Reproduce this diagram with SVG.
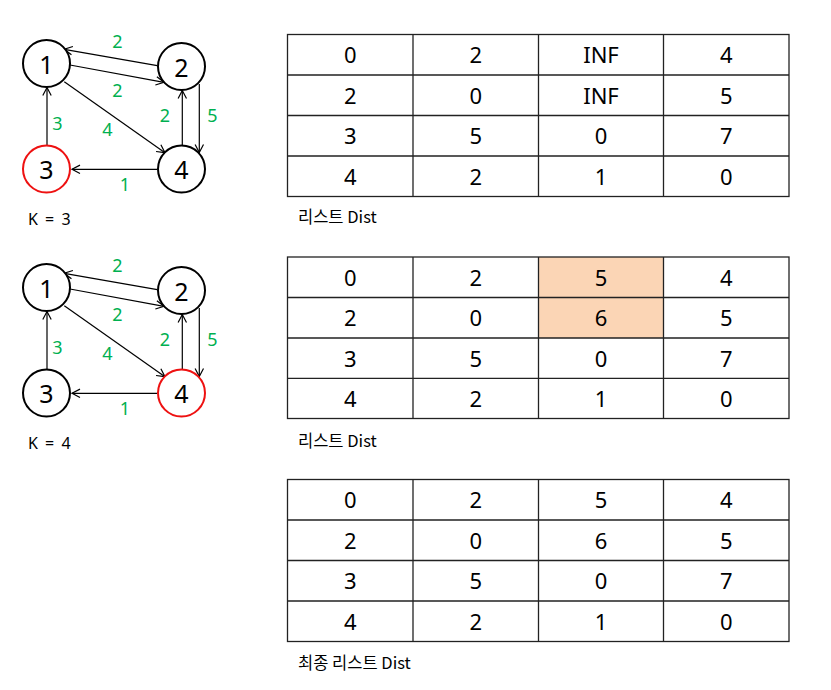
<svg xmlns="http://www.w3.org/2000/svg" width="831" height="690" viewBox="0 0 831 690">
<style>
.bg{fill:#fff}
.node{fill:#fff;stroke:#000;stroke-width:2}
.node.k{stroke:#ee1111}
.nt{font-family:"Noto Sans","Noto Sans CJK KR",sans-serif;font-size:25px;fill:#000;text-anchor:middle}
.el{font-family:"Noto Sans","Noto Sans CJK KR",sans-serif;font-size:18px;fill:#00b050;text-anchor:middle}
.edge{stroke:#000;stroke-width:1.2;fill:none;marker-end:url(#arr)}
.cap{font-family:"Noto Sans CJK KR","Noto Sans",sans-serif;font-size:16.5px;fill:#000}
.kl{font-family:"Noto Sans","Noto Sans CJK KR",sans-serif;font-size:16px;fill:#000;word-spacing:3px}
.grid{stroke:#222;stroke-width:1.3;fill:none}
.cell{font-family:"Noto Sans","Noto Sans CJK KR",sans-serif;font-size:22px;fill:#000;text-anchor:middle}
.hl{fill:#fbd5b5}
</style>
<defs>
<marker id="arr" markerUnits="userSpaceOnUse" markerWidth="12" markerHeight="12" viewBox="-10 -6 12 12" refX="0" refY="0" orient="auto">
<path d="M-8,-4.2 L0,0 L-8,4.2" fill="none" stroke="#000" stroke-width="1.2"/>
</marker>
</defs>
<rect class="bg" x="0" y="0" width="831" height="690"/>

<!-- Graph 1 (K = 3) -->
<g id="graph1-edges">
<line class="edge" x1="157.3" y1="65.7" x2="64.3" y2="49.3"/>
<line class="edge" x1="70" y1="65" x2="164" y2="82.3"/>
<line class="edge" x1="64.3" y1="81.7" x2="165" y2="152.7"/>
<line class="edge" x1="47" y1="145" x2="47" y2="87.5"/>
<line class="edge" x1="182.3" y1="145.5" x2="182.3" y2="90.5"/>
<line class="edge" x1="199.3" y1="84" x2="199.3" y2="152.5"/>
<line class="edge" x1="157.3" y1="169.3" x2="72" y2="169.3"/>
<text class="el" x="117.5" y="48.3">2</text>
<text class="el" x="117.5" y="96.7">2</text>
<text class="el" x="57.5" y="130">3</text>
<text class="el" x="107.5" y="136">4</text>
<text class="el" x="165" y="121.7">2</text>
<text class="el" x="212.5" y="121.7">5</text>
<text class="el" x="125" y="190.7">1</text>
</g>
<g id="g1-n1"><circle class="node" cx="46.5" cy="63.5" r="23.5"/><text class="nt" x="46.5" y="73.5">1</text></g>
<g id="g1-n2"><circle class="node" cx="181.5" cy="66.5" r="23.5"/><text class="nt" x="181.5" y="76.5">2</text></g>
<g id="g1-n3"><circle class="node k" cx="46.5" cy="169" r="23.5"/><text class="nt" x="46.5" y="179">3</text></g>
<g id="g1-n4"><circle class="node" cx="181.5" cy="169" r="23.5"/><text class="nt" x="181.5" y="179">4</text></g>
<text class="kl" x="28" y="224.5">K = 3</text>

<!-- Graph 2 (K = 4) -->
<g id="graph2-edges" transform="translate(0,224)">
<line class="edge" x1="157.3" y1="65.7" x2="64.3" y2="49.3"/>
<line class="edge" x1="70" y1="65" x2="164" y2="82.3"/>
<line class="edge" x1="64.3" y1="81.7" x2="165" y2="152.7"/>
<line class="edge" x1="47" y1="145" x2="47" y2="87.5"/>
<line class="edge" x1="182.3" y1="145.5" x2="182.3" y2="90.5"/>
<line class="edge" x1="199.3" y1="84" x2="199.3" y2="152.5"/>
<line class="edge" x1="157.3" y1="169.3" x2="72" y2="169.3"/>
<text class="el" x="117.5" y="48.3">2</text>
<text class="el" x="117.5" y="96.7">2</text>
<text class="el" x="57.5" y="130">3</text>
<text class="el" x="107.5" y="136">4</text>
<text class="el" x="165" y="121.7">2</text>
<text class="el" x="212.5" y="121.7">5</text>
<text class="el" x="125" y="190.7">1</text>
</g>
<g id="g2-n1"><circle class="node" cx="46.5" cy="287.5" r="23.5"/><text class="nt" x="46.5" y="297.5">1</text></g>
<g id="g2-n2"><circle class="node" cx="181.5" cy="290.5" r="23.5"/><text class="nt" x="181.5" y="300.5">2</text></g>
<g id="g2-n3"><circle class="node" cx="46.5" cy="393" r="23.5"/><text class="nt" x="46.5" y="403">3</text></g>
<g id="g2-n4"><circle class="node k" cx="181.5" cy="393" r="23.5"/><text class="nt" x="181.5" y="403">4</text></g>
<text class="kl" x="28" y="448.5">K = 4</text>

<!-- Table 1 -->
<g id="table1">
<rect class="grid" x="287.5" y="34.5" width="501.5" height="162"/>
<path class="grid" d="M287.5,75 H789 M287.5,115.5 H789 M287.5,156 H789 M413,34.5 V196.5 M538.5,34.5 V196.5 M663.5,34.5 V196.5"/>
<text class="cell" x="350.2" y="63.2">0</text><text class="cell" x="475.7" y="63.2">2</text><text class="cell" x="601" y="63.2">INF</text><text class="cell" x="726.2" y="63.2">4</text>
<text class="cell" x="350.2" y="103.7">2</text><text class="cell" x="475.7" y="103.7">0</text><text class="cell" x="601" y="103.7">INF</text><text class="cell" x="726.2" y="103.7">5</text>
<text class="cell" x="350.2" y="144.2">3</text><text class="cell" x="475.7" y="144.2">5</text><text class="cell" x="601" y="144.2">0</text><text class="cell" x="726.2" y="144.2">7</text>
<text class="cell" x="350.2" y="184.7">4</text><text class="cell" x="475.7" y="184.7">2</text><text class="cell" x="601" y="184.7">1</text><text class="cell" x="726.2" y="184.7">0</text>
</g>
<text class="cap" x="298" y="223">리스트 Dist</text>

<!-- Table 2 -->
<g id="table2">
<rect class="hl" x="538.5" y="257" width="125" height="81"/>
<rect class="grid" x="287.5" y="257" width="501.5" height="161.5"/>
<path class="grid" d="M287.5,297.5 H789 M287.5,338 H789 M287.5,378.3 H789 M413,257 V418.5 M538.5,257 V418.5 M663.5,257 V418.5"/>
<text class="cell" x="350.2" y="285.7">0</text><text class="cell" x="475.7" y="285.7">2</text><text class="cell" x="601" y="285.7">5</text><text class="cell" x="726.2" y="285.7">4</text>
<text class="cell" x="350.2" y="326.2">2</text><text class="cell" x="475.7" y="326.2">0</text><text class="cell" x="601" y="326.2">6</text><text class="cell" x="726.2" y="326.2">5</text>
<text class="cell" x="350.2" y="366.6">3</text><text class="cell" x="475.7" y="366.6">5</text><text class="cell" x="601" y="366.6">0</text><text class="cell" x="726.2" y="366.6">7</text>
<text class="cell" x="350.2" y="406.9">4</text><text class="cell" x="475.7" y="406.9">2</text><text class="cell" x="601" y="406.9">1</text><text class="cell" x="726.2" y="406.9">0</text>
</g>
<text class="cap" x="298" y="446.5">리스트 Dist</text>

<!-- Table 3 -->
<g id="table3">
<rect class="grid" x="287.5" y="479.5" width="501.5" height="162"/>
<path class="grid" d="M287.5,520 H789 M287.5,560.5 H789 M287.5,601 H789 M413,479.5 V641.5 M538.5,479.5 V641.5 M663.5,479.5 V641.5"/>
<text class="cell" x="350.2" y="508.2">0</text><text class="cell" x="475.7" y="508.2">2</text><text class="cell" x="601" y="508.2">5</text><text class="cell" x="726.2" y="508.2">4</text>
<text class="cell" x="350.2" y="548.7">2</text><text class="cell" x="475.7" y="548.7">0</text><text class="cell" x="601" y="548.7">6</text><text class="cell" x="726.2" y="548.7">5</text>
<text class="cell" x="350.2" y="589.2">3</text><text class="cell" x="475.7" y="589.2">5</text><text class="cell" x="601" y="589.2">0</text><text class="cell" x="726.2" y="589.2">7</text>
<text class="cell" x="350.2" y="629.7">4</text><text class="cell" x="475.7" y="629.7">2</text><text class="cell" x="601" y="629.7">1</text><text class="cell" x="726.2" y="629.7">0</text>
</g>
<text class="cap" x="298" y="669">최종 리스트 Dist</text>
</svg>
